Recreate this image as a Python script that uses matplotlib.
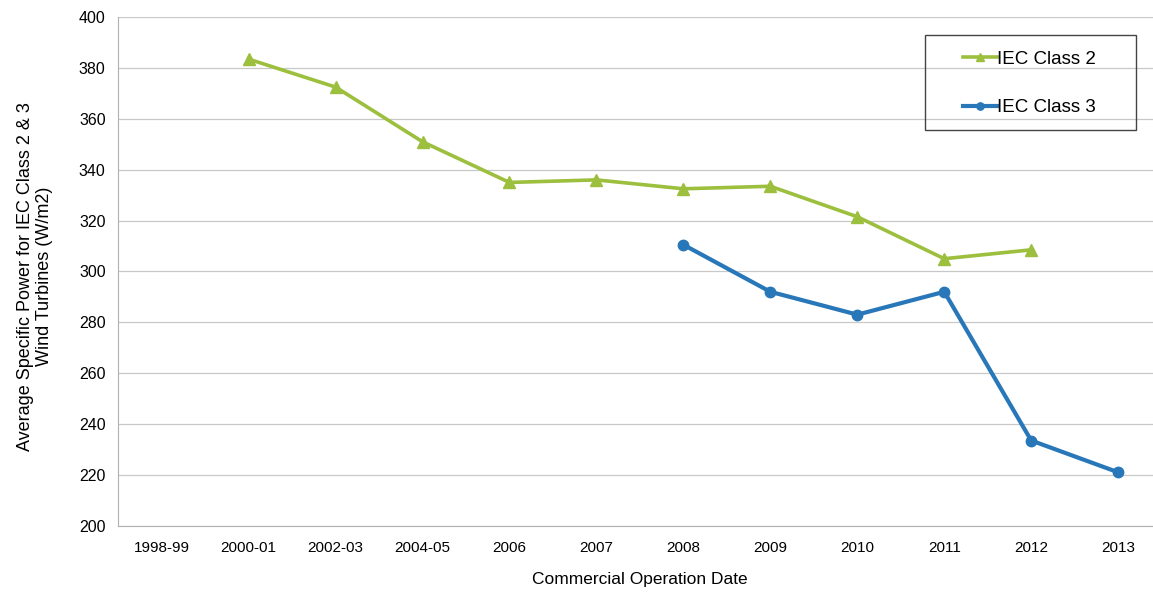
import numpy as np
import matplotlib.pyplot as plt
from matplotlib.patches import Rectangle

plt.rcParams['font.family'] = ['Liberation Sans', 'DejaVu Sans']

# categories on the x axis
dates = ['1998-99', '2000-01', '2002-03', '2004-05', '2006', '2007',
         '2008', '2009', '2010', '2011', '2012', '2013']

# average specific power (W/m2), nan where no value
class2 = [np.nan, 383.5, 372.5, 351, 335, 336, 332.5, 333.5, 321.5, 305, 308.5, np.nan]
class3 = [np.nan, np.nan, np.nan, np.nan, np.nan, np.nan, 310.5, 292, 283, 292, 233.5, 221]

x = np.arange(len(dates))

fig = plt.figure(figsize=(11.53, 5.92), dpi=100)
ax = fig.add_axes([0.1025, 0.112, 0.905, 0.859])

ax.plot(x, class2, color='#9cbf3e', lw=2.6, marker='^', ms=8, label='IEC Class 2')
ax.plot(x, class3, color='#2877b8', lw=3.0, marker='o', ms=7.5, label='IEC Class 3')

ax.set_xlim(-0.5, len(dates) - 0.5)
ax.set_ylim(200, 400)
ax.set_yticks(np.arange(200, 401, 20))
ax.set_xticks(x)
ax.set_xticklabels(dates)
ax.tick_params(axis='x', labelsize=11, length=0, pad=11)
ax.tick_params(axis='y', labelsize=11.5, length=0, pad=9)

ax.grid(axis='y', color='#c8c8c8', lw=0.9)
ax.set_axisbelow(True)
for side in ['top', 'right']:
    ax.spines[side].set_visible(False)
ax.spines['left'].set_color('#b0b0b0')
ax.spines['bottom'].set_color('#b0b0b0')

ax.set_xlabel('Commercial Operation Date', fontsize=12.5, labelpad=12)
ax.set_ylabel('Average Specific Power for IEC Class 2 & 3\nWind Turbines (W/m2)',
              fontsize=13, linespacing=1.2)
ax.yaxis.set_label_coords(-0.062, 0.49)

# legend box drawn by hand, entries placed inside it
fig.patches.append(Rectangle((0.802, 0.780), 0.183, 0.161, transform=fig.transFigure,
                             fill=False, edgecolor='#444444', lw=1.0))
leg = ax.legend(loc='center', bbox_to_anchor=(0.893, 0.859),
                bbox_transform=fig.transFigure, fontsize=13.5, frameon=False,
                handlelength=1.8, handletextpad=0.0, labelspacing=1.65,
                borderpad=0, markerscale=0.7)

plt.savefig('out.png', dpi=100)
